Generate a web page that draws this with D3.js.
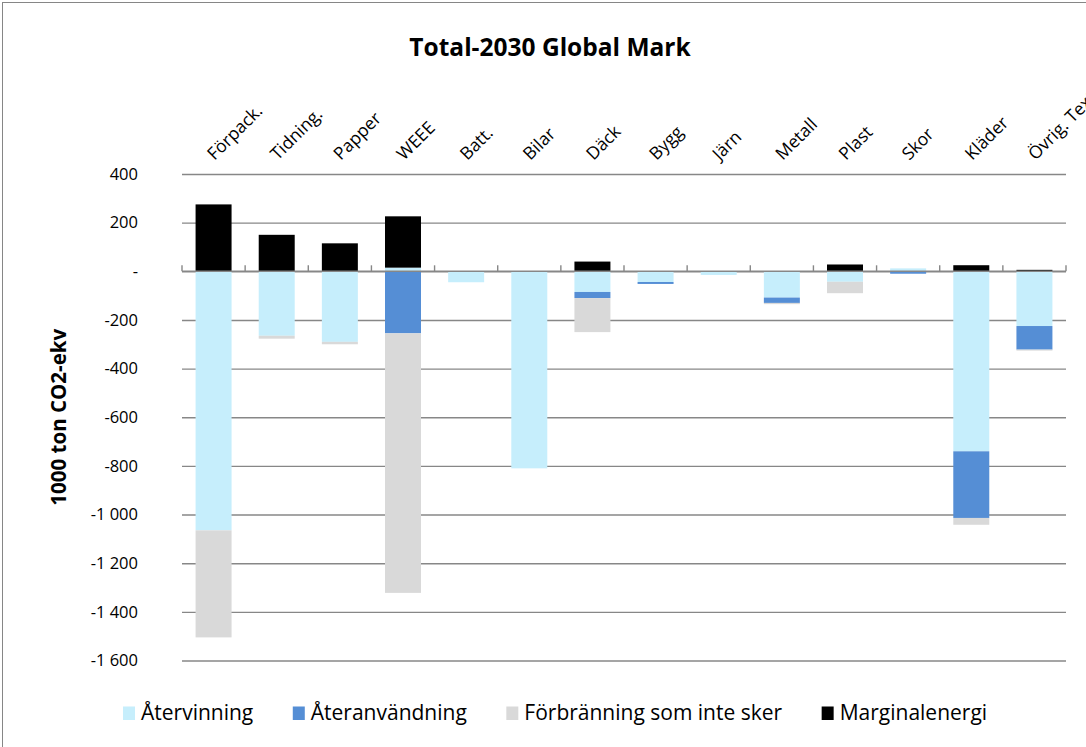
<!DOCTYPE html>
<html>
<head>
<meta charset="utf-8">
<script src="https://cdn.jsdelivr.net/npm/d3@7"></script>
<style>
  html, body { margin: 0; padding: 0; background: #fff; overflow: hidden; }
  svg { display: block; font-family: "Open Sans", Lato, sans-serif; }
</style>
</head>
<body>
<svg id="chart" width="1086" height="747"></svg>
<script>
// ---- Data ----
const categories = ["Förpack.", "Tidning.", "Papper", "WEEE", "Batt.", "Bilar", "Däck", "Bygg", "Järn", "Metall", "Plast", "Skor", "Kläder", "Övrig. Textil"];
const seriesNames = ["Återvinning", "Återanvändning", "Förbränning som inte sker", "Marginalenergi"];
const atervinning    = [-1065, -265, -290,    15, -45, -810, -85, -44, -15, -108, -43,  12, -740, -225];
const ateranvandning = [    0,    0,    0,  -255,   0,    0, -25,  -8,   0,  -22,   0, -10, -274,  -97];
const forbranning    = [ -440,  -12,  -10, -1067,   0,    0,-140,   0,   0,   -5, -47,   0,  -28,   -4];
const marginalenergi = [  275,  150,  115,   211,   0,    0,  40,   0,   0,    0,  28,   0,   25,    6];
const yTicks = [400, 200, 0, -200, -400, -600, -800, -1000, -1200, -1400, -1600];
const titleText = "Total-2030 Global Mark";
const yTitle = "1000 ton CO2-ekv";
const colors = ["#C6EEFC", "#558ED5", "#D9D9D9", "#000000"];

// ---- Build table ----
const seriesArrays = [atervinning, ateranvandning, forbranning, marginalenergi];
const table = categories.map((c, i) => {
  const row = { cat: c };
  seriesNames.forEach((s, j) => row[s] = seriesArrays[j][i]);
  return row;
});

const svg = d3.select("#chart");
const plot = { left: 182, right: 1066, top: 174, bottom: 660.5 };
const FONT = "'Open Sans', Lato, sans-serif";

// frame
svg.append("rect").attr("x", 2.5).attr("y", 2.5).attr("width", 1110).attr("height", 780)
  .attr("fill", "#fff").attr("stroke", "#868686").attr("stroke-width", 1);

const x = d3.scaleBand().domain(categories).range([plot.left, plot.right])
  .paddingInner(0.43).paddingOuter(0.215);
const y = d3.scaleLinear().domain([-1600, 400]).range([plot.bottom, plot.top]);

const locale = d3.formatLocale({ decimal: ",", thousands: " ", grouping: [3], currency: ["", ""], minus: "-" });
const fmt = locale.format(",d");

// gridlines + y labels
const yAxis = d3.axisLeft(y).tickValues(yTicks)
  .tickSize(-(plot.right - plot.left)).tickPadding(44)
  .tickFormat(d => d === 0 ? "-" : fmt(d));
const gy = svg.append("g").attr("transform", `translate(${plot.left},0)`).call(yAxis);
gy.select(".domain").remove();
gy.selectAll(".tick line").attr("stroke", "#878787").attr("stroke-width", 1.4);
gy.selectAll(".tick text").attr("font-family", FONT).attr("font-size", 16.5).attr("fill", "#000");

// stacked bars
const stack = d3.stack().keys(seriesNames).offset(d3.stackOffsetDiverging);
const stacked = stack(table);
svg.append("g").selectAll("g").data(stacked).join("g")
  .attr("fill", (d, i) => colors[i])
  .selectAll("rect").data(d => d.map(v => ({ v, cat: v.data.cat }))).join("rect")
  .attr("x", d => x(d.cat))
  .attr("width", x.bandwidth())
  .attr("y", d => y(Math.max(d.v[0], d.v[1])))
  .attr("height", d => Math.abs(y(d.v[0]) - y(d.v[1])));

// zero axis line and ticks on top
const step = x.step();
const y0 = y(0);
const ax = svg.append("g");
ax.append("line").attr("x1", plot.left).attr("x2", plot.right).attr("y1", y0).attr("y2", y0)
  .attr("stroke", "#878787").attr("stroke-width", 1.4);
ax.selectAll("line.tk").data(d3.range(categories.length + 1)).join("line")
  .attr("class", "tk")
  .attr("x1", i => plot.left + i * step).attr("x2", i => plot.left + i * step)
  .attr("y1", y0).attr("y2", y0 - 6)
  .attr("stroke", "#878787").attr("stroke-width", 1.4);

// category labels (rotated, above plot)
svg.append("g").selectAll("text").data(categories).join("text")
  .attr("transform", d => `translate(${x(d) + x.bandwidth() / 2 + 1},161) rotate(-45)`)
  .attr("text-anchor", "start")
  .attr("font-family", FONT)
  .attr("font-size", 17.5)
  .attr("fill", "#000")
  .text(d => d);

// title
svg.append("text").attr("x", 550).attr("y", 56).attr("text-anchor", "middle")
  .attr("font-family", FONT)
  .attr("font-size", 24.5).attr("font-weight", "bold").attr("fill", "#000").text(titleText);

// y axis title
svg.append("text").attr("transform", `translate(66,${(plot.top + plot.bottom) / 2}) rotate(-90)`)
  .attr("text-anchor", "middle").attr("font-family", FONT).attr("font-size", 20.5).attr("font-weight", "bold")
  .attr("fill", "#000").text(yTitle);

// legend
const lg = svg.append("g");
let lx = 123;
seriesNames.forEach((s, i) => {
  const g = lg.append("g");
  g.append("rect").attr("x", lx).attr("y", 706.5).attr("width", 12).attr("height", 13.5).attr("fill", colors[i]);
  const t = g.append("text").attr("x", lx + 18).attr("y", 720).attr("font-family", FONT)
    .attr("font-size", 21).attr("fill", "#000").text(s);
  lx = lx + 18 + t.node().getComputedTextLength() + 39.5;
});
</script>
</body>
</html>
